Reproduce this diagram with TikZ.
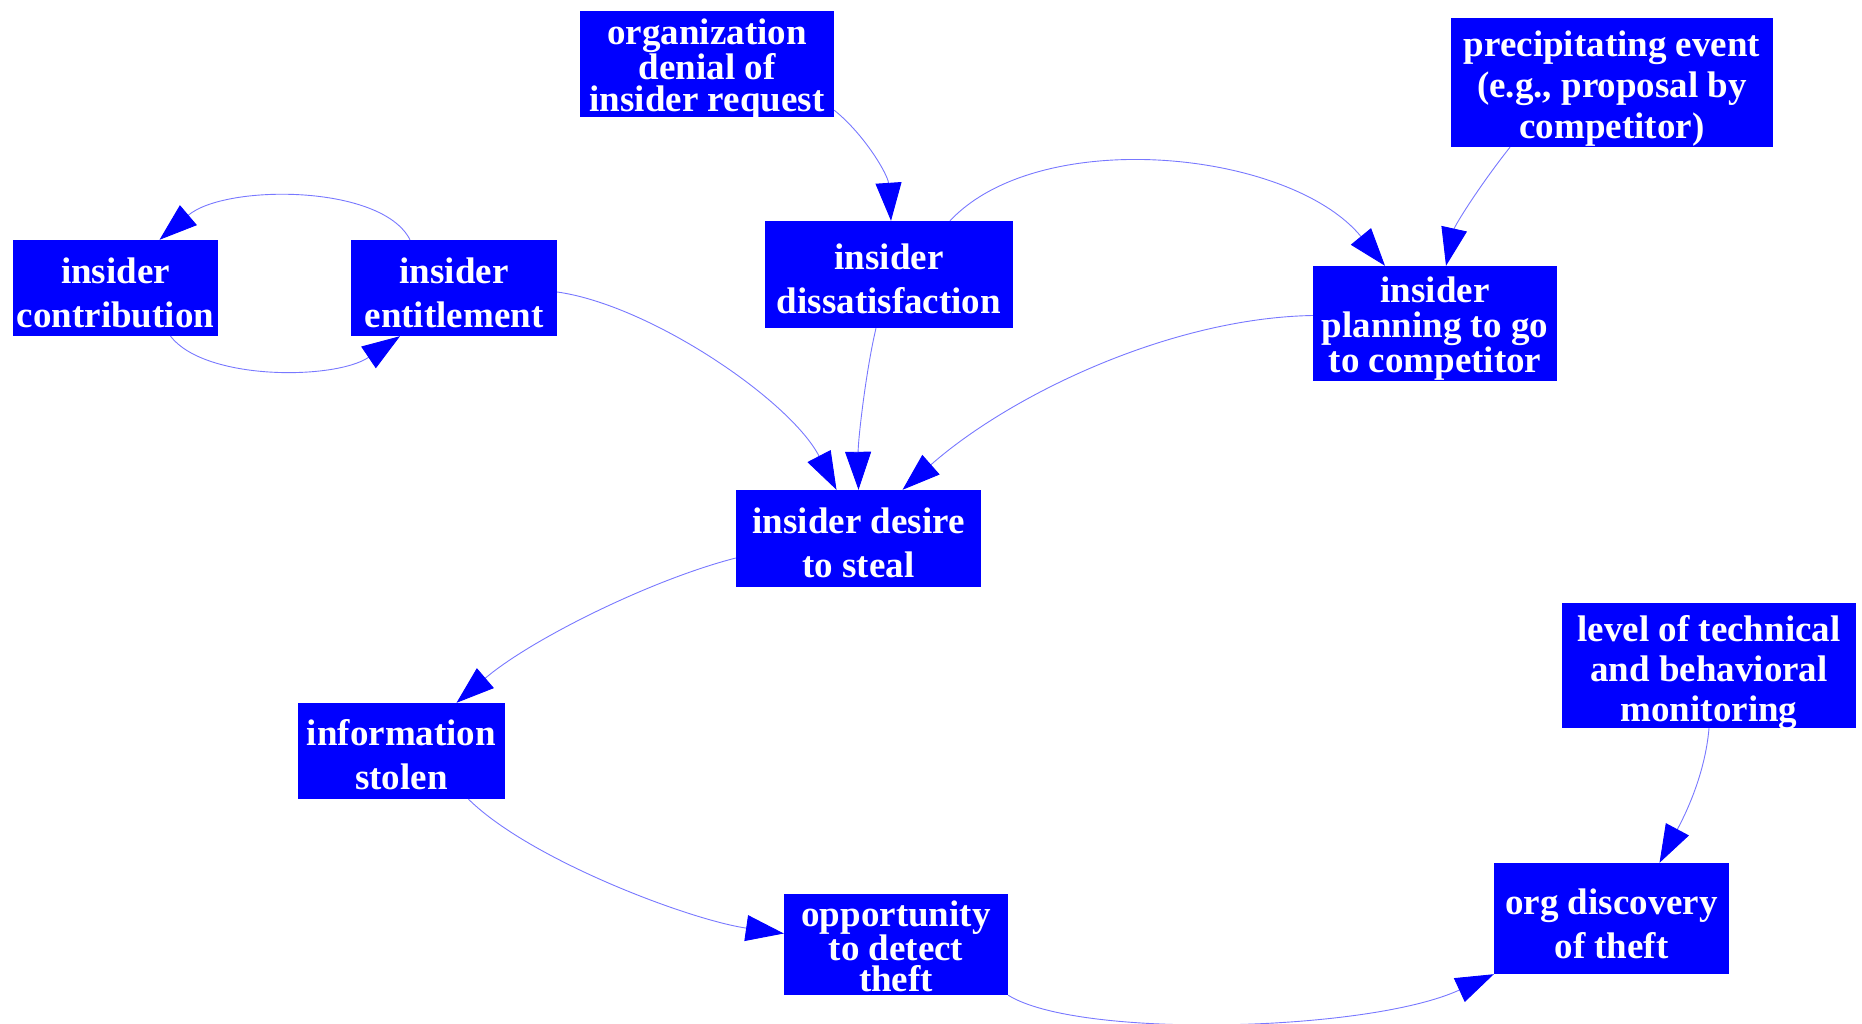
\documentclass[tikz,border=0pt]{standalone}
\usepackage{fontspec}
\setmainfont{Liberation Serif}
\usetikzlibrary{arrows.meta}
\definecolor{boxblue}{rgb}{0,0,1}
\definecolor{edgeblue}{RGB}{120,120,255}
\tikzset{
  box/.style={fill=boxblue, inner sep=0pt, minimum width=#1},
  lbl/.style={text=white, align=center, inner sep=0pt,
    font=\bfseries\fontsize{37}{#1}\selectfont},
  link/.style={draw=edgeblue, line width=0.9pt,
    -{Triangle[length=38pt,width=26pt,color=boxblue]}}
}
\begin{document}
\begin{tikzpicture}[x=1pt,y=-1pt]
\useasboundingbox (0,0) rectangle (1862,1024);

% boxes
\node[box=205pt, minimum height=96pt] (contrib) at (115.5,288) {};
\node[box=206pt, minimum height=96pt] (entitle) at (454,288) {};
\node[box=254pt, minimum height=106pt] (denial) at (707,64) {};
\node[box=248pt, minimum height=107pt] (dissat) at (889,274.5) {};
\node[box=322pt, minimum height=129pt] (precip) at (1612,82.5) {};
\node[box=244pt, minimum height=115pt] (planning) at (1435,323.5) {};
\node[box=245pt, minimum height=97pt] (desire) at (858.5,538.5) {};
\node[box=207pt, minimum height=96pt] (stolen) at (401.5,751) {};
\node[box=224pt, minimum height=101pt] (oppor) at (896,944.5) {};
\node[box=294pt, minimum height=125pt] (level) at (1709,665.5) {};
\node[box=235pt, minimum height=111pt] (discov) at (1611.5,918.5) {};

% box texts, set a little below each box centre
\node[lbl=44] (contribt) at ([yshift=-5pt]contrib.center) {insider\\contribution};
\node[lbl=44] (entitlet) at ([yshift=-5pt]entitle.center) {insider\\entitlement};
\node[lbl=32] (denialt) at ([yshift=-5pt]denial.center) {organization\\denial of\\insider request};
\node[lbl=44] (dissatt) at ([yshift=-4pt]dissat.center) {insider\\dissatisfaction};
\node[lbl=41] (precipt) at ([yshift=-6pt]precip.center) {precipitating event\\(e.g., proposal by\\competitor)};
\node[lbl=35] (planningt) at ([yshift=-5pt]planning.center) {insider\\planning to go\\to competitor};
\node[lbl=44] (desiret) at ([yshift=-4pt]desire.center) {insider desire\\to steal};
\node[lbl=44] (stolent) at ([yshift=-4pt]stolen.center) {information\\stolen};
\node[lbl=31] (opport) at ([yshift=-2pt]oppor.center) {opportunity\\to detect\\theft};
\node[lbl=40] (levelt) at ([yshift=-7pt]level.center) {level of technical\\and behavioral\\monitoring};
\node[lbl=44] (discovt) at ([yshift=-5pt]discov.center) {org discovery\\of theft};

% connectors
\draw[link] ([xshift=-44pt]entitle.north) .. controls (382,184) and (225,184) .. ([xshift=44pt]contrib.north);
\draw[link] ([xshift=55pt]contrib.south) .. controls (205,381) and (335,380) .. ([xshift=-54pt]entitle.south);
\draw[link] ([yshift=-4pt]entitle.east) .. controls (650,305) and (790,400) .. ([xshift=-22pt]desire.north);
\draw[link] ([yshift=7pt]denial.south east) .. controls (865,135) and (888,175) .. ([xshift=2pt]dissat.north);
\draw[link] ([xshift=61pt]dissat.north) .. controls (1040,125) and (1290,150) .. ([xshift=-50pt]planning.north);
\draw[link] ([xshift=-102pt]precip.south) .. controls (1480,185) and (1455,225) .. ([xshift=11pt]planning.north);
\draw[link] ([xshift=-13pt]dissat.south) .. controls (866,370) and (858,440) .. (desire.north);
\draw[link] ([yshift=8pt]planning.west) .. controls (1170,318) and (1010,395) .. ([xshift=44pt]desire.north);
\draw[link] ([yshift=-19.5pt]desire.west) .. controls (650,580) and (530,640) .. ([xshift=55pt]stolen.north);
\draw[link] ([xshift=67pt]stolen.south) .. controls (530,860) and (690,920) .. ([yshift=11pt]oppor.west);
\draw[link] (oppor.south east) .. controls (1078,1039) and (1368,1032) .. (discov.south west);
\draw[link] (level.south) .. controls (1705,775) and (1685,815) .. ([xshift=48pt]discov.north);
\end{tikzpicture}
\end{document}
